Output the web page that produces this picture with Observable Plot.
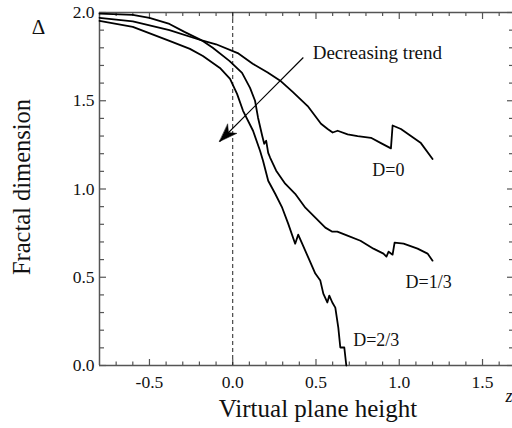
<!DOCTYPE html>
<html><head><meta charset="utf-8">
<script src="https://cdn.jsdelivr.net/npm/d3@7"></script>
<script src="https://cdn.jsdelivr.net/npm/@observablehq/plot@0.6"></script>
<style>html,body{margin:0;padding:0;background:#fff;overflow:hidden} svg{display:block}</style>
</head><body><div id="chart"></div>
<script>
// ---- data ----
const d0X = [-0.80, -0.60, -0.38, -0.18, -0.10, 0.03, 0.12, 0.21, 0.29, 0.36, 0.45, 0.53, 0.57, 0.60, 0.63, 0.69, 0.75, 0.83, 0.89, 0.95, 0.96, 1.01, 1.07, 1.13, 1.20];
const d0Y = [1.97, 1.95, 1.90, 1.84, 1.82, 1.77, 1.71, 1.66, 1.61, 1.55, 1.47, 1.37, 1.34, 1.32, 1.33, 1.31, 1.30, 1.29, 1.26, 1.23, 1.36, 1.34, 1.30, 1.26, 1.17];

const d13X = [-0.80, -0.60, -0.50, -0.38, -0.29, -0.18, -0.12, -0.02, 0.056, 0.104, 0.134, 0.152, 0.177, 0.189, 0.201, 0.213, 0.225, 0.261, 0.315, 0.375, 0.436, 0.496, 0.556, 0.598, 0.628, 0.689, 0.767, 0.845, 0.905, 0.923, 0.936, 0.960, 0.972, 1.026, 1.110, 1.170, 1.200];
const d13Y = [1.994, 1.986, 1.969, 1.935, 1.890, 1.839, 1.800, 1.726, 1.658, 1.573, 1.500, 1.404, 1.302, 1.256, 1.273, 1.205, 1.177, 1.104, 1.030, 0.973, 0.894, 0.838, 0.781, 0.758, 0.758, 0.736, 0.707, 0.662, 0.634, 0.617, 0.645, 0.628, 0.696, 0.690, 0.662, 0.634, 0.594];

const d23X = [-0.80, -0.60, -0.38, -0.257, -0.179, -0.077, -0.016, 0.026, 0.062, 0.122, 0.164, 0.182, 0.213, 0.255, 0.297, 0.333, 0.375, 0.393, 0.417, 0.454, 0.496, 0.526, 0.544, 0.568, 0.580, 0.598, 0.616, 0.634, 0.646, 0.670, 0.682];
const d23Y = [1.953, 1.919, 1.839, 1.794, 1.754, 1.686, 1.624, 1.539, 1.443, 1.330, 1.217, 1.160, 1.047, 0.973, 0.894, 0.804, 0.690, 0.741, 0.690, 0.611, 0.521, 0.481, 0.407, 0.357, 0.396, 0.357, 0.328, 0.215, 0.102, 0.102, 0.000];

const seriesNames = ["D=0", "D=1/3", "D=2/3"];
const seriesLabelX = [0.935, 1.176, 0.862];
const seriesLabelY = [1.105, 0.470, 0.142];

const xTickValues = [-0.5, 0, 0.5, 1.0, 1.5];
const xTickLabels = ["-0.5", "0.0", "0.5", "1.0", "1.5"];
const yTickValues = [0, 0.5, 1.0, 1.5, 2.0];
const yTickLabels = ["0.0", "0.5", "1.0", "1.5", "2.0"];

const xTitle = "Virtual plane height";
const yTitle = "Fractal dimension";
const ySymbol = "Δ";
const xSymbol = "z";

const trendText = "Decreasing trend";
const trendTextX = 0.48, trendTextY = 1.772;
const trendFrom = [0.424, 1.745];
const trendTo = [-0.079, 1.269];

// ---- layout ----
const W = 512, H = 428;
const ML = 99, MR = 0, MT = 12, MB = 63;
const xDomain = [-0.8, 1.68];
const yDomain = [0, 2];
const frameW = W - ML - MR, frameH = H - MT - MB;

const rows = [];
[[d0X, d0Y], [d13X, d13Y], [d23X, d23Y]].forEach(([xs, ys], i) => {
  xs.forEach((x, j) => rows.push({series: seriesNames[i], x, y: ys[j]}));
});
const labels = seriesNames.map((s, i) => ({text: s, x: seriesLabelX[i], y: seriesLabelY[i]}));

const xMinor = d3.range(-7, 17).map(i => +(i / 10).toFixed(1)).filter(v => !xTickValues.some(t => Math.abs(t - v) < 1e-9));
const yMinor = d3.range(1, 20).map(i => +(i / 10).toFixed(1)).filter(v => !yTickValues.some(t => Math.abs(t - v) < 1e-9));
const xTicksAll = xTickValues.map((v, i) => ({v, label: xTickLabels[i]}));
const yTicksAll = yTickValues.map((v, i) => ({v, label: yTickLabels[i]}));

// arrow head direction from scales
const sc = Plot.scale({x: {domain: xDomain, range: [ML, W - MR]}});
const scy = Plot.scale({y: {domain: yDomain, range: [H - MB, MT]}});
const dxp = sc.apply(trendTo[0]) - sc.apply(trendFrom[0]);
const dyp = scy.apply(trendTo[1]) - scy.apply(trendFrom[1]);
const angle = Math.atan2(dxp, -dyp) * 180 / Math.PI;
const stealth = {
  draw(context, l, r) {
    context.moveTo(0, -l);
    context.lineTo(-r, 0);
    context.lineTo(0, -l * 0.3);
    context.lineTo(r, 0);
    context.closePath();
  }
};

const axisColor = "#555";
const tickW = 1.2;
const T = {textAnchor: "middle", lineAnchor: "middle", fill: "#111"};

const chart = Plot.plot({
  width: W, height: H,
  marginLeft: ML, marginRight: MR, marginTop: MT, marginBottom: MB,
  x: {domain: xDomain, axis: null},
  y: {domain: yDomain, axis: null},
  style: {fontFamily: "'Liberation Serif', 'Times New Roman', serif", fontSize: "16px", color: "black", background: "white"},
  marks: [
    // frame lines
    Plot.ruleX([xDomain[0]], {stroke: axisColor, strokeWidth: 1.5}),
    Plot.ruleY([yDomain[0], yDomain[1]], {stroke: axisColor, strokeWidth: 1.5}),
    // bottom ticks (inward)
    Plot.tickX(xMinor, {x: d => d, insetTop: frameH - 3.5, stroke: axisColor, strokeWidth: tickW}),
    Plot.tickX(xTickValues, {x: d => d, insetTop: frameH - 6, stroke: axisColor, strokeWidth: tickW}),
    // top ticks (inward)
    Plot.tickX(xMinor, {x: d => d, insetBottom: frameH - 4, stroke: axisColor, strokeWidth: tickW}),
    Plot.tickX(xTickValues, {x: d => d, insetBottom: frameH - 7, stroke: axisColor, strokeWidth: tickW}),
    // left ticks
    Plot.tickY(yMinor, {y: d => d, insetRight: frameW - 5, stroke: axisColor, strokeWidth: tickW}),
    Plot.tickY(yTickValues, {y: d => d, insetRight: frameW - 7, stroke: axisColor, strokeWidth: tickW}),
    // right ticks
    Plot.tickY(yMinor, {y: d => d, insetLeft: frameW - 3, stroke: axisColor, strokeWidth: tickW}),
    Plot.tickY(yTickValues, {y: d => d, insetLeft: frameW - 5, stroke: axisColor, strokeWidth: tickW}),
    // tick labels
    Plot.text(xTicksAll, {...T, x: "v", text: "label", frameAnchor: "bottom", dy: 17, fontSize: 17.5}),
    Plot.text(yTicksAll, {...T, y: "v", text: "label", frameAnchor: "left", dx: -5, textAnchor: "end", fontSize: 17.5}),
    // dashed zero line
    Plot.ruleX([0], {stroke: "#222", strokeWidth: 1, strokeDasharray: "4,3"}),
    // curves
    Plot.line(rows, {x: "x", y: "y", z: "series", stroke: "black", strokeWidth: 1.8, strokeLinejoin: "round"}),
    // curve labels
    Plot.text(labels, {...T, x: "x", y: "y", text: "text", fontSize: 18}),
    // trend annotation
    Plot.link([{x1: trendFrom[0], y1: trendFrom[1], x2: trendTo[0], y2: trendTo[1]}], {x1: "x1", y1: "y1", x2: "x2", y2: "y2", stroke: "black", strokeWidth: 1.2}),
    Plot.vector([{x: trendTo[0], y: trendTo[1]}], {x: "x", y: "y", rotate: angle, length: 18, r: 6.5, anchor: "end", shape: stealth, fill: "black", stroke: "black", strokeWidth: 0.5}),
    Plot.text([trendText], {...T, x: trendTextX, y: trendTextY, text: d => d, textAnchor: "start", fontSize: 19}),
    // titles and symbols
    Plot.text([xTitle], {...T, frameAnchor: "bottom", dx: 12, dy: 43, text: d => d, fontSize: 25}),
    Plot.text([yTitle], {...T, frameAnchor: "left", dx: -77, dy: -2, rotate: -90, text: d => d, fontSize: 24.5}),
    Plot.text([ySymbol], {...T, frameAnchor: "top-left", dx: -61, dy: 15, text: d => d, fontSize: 21}),
    Plot.text([xSymbol], {...T, frameAnchor: "bottom-right", dx: -7, dy: 31, textAnchor: "start", text: d => d, fontSize: 18, fontStyle: "italic"})
  ]
});
document.getElementById("chart").appendChild(chart);
</script>
</body></html>
